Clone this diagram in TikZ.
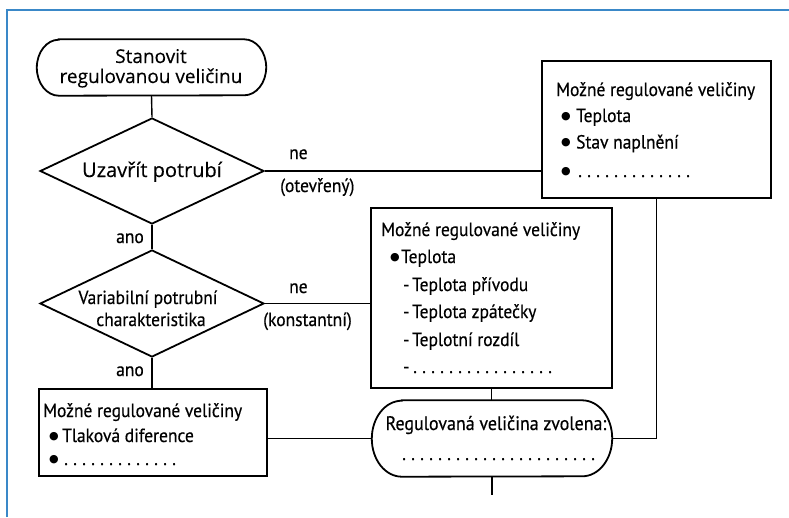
\documentclass[tikz,border=0pt]{standalone}
\usepackage{fontspec}
\setmainfont{PT Sans}[FakeStretch=0.92, FakeBold=0.4]
\newfontfamily\widefont{Open Sans}[FakeBold=0.3]
\newfontfamily\symfont{DejaVu Sans}
\usetikzlibrary{shapes.geometric}

\definecolor{frameblue}{RGB}{58,136,200}

% a row of evenly spaced dots
\newcommand\leaderdots[1]{\foreach \k in {1,...,#1}{\makebox[9pt][l]{.}}}
% a round list bullet
\newcommand\blt{\raisebox{3pt}{\symfont\fontsize{11}{11}\selectfont ●}}

\begin{document}
\begin{tikzpicture}[x=1pt,y=-1pt,
  txt/.style={inner sep=0pt, anchor=base west, font=\fontsize{19}{22}\selectfont},
  ctxt/.style={txt, anchor=base},
  wtxt/.style={inner sep=0pt, anchor=base, font=\widefont\fontsize{20}{23}\selectfont},
  box/.style={draw, line width=2.2pt, rectangle, inner sep=0pt},
  dec/.style={draw, line width=1.8pt, diamond, inner sep=0pt},
  termbox/.style={rectangle, inner sep=0pt},
  termline/.style={line width=1.8pt},
  wire/.style={line width=1.4pt},
  framebar/.style={draw=frameblue, line width=2pt}
]
\useasboundingbox (0,0) rectangle (789,517);

% page frame
\draw[framebar] (7,517) -- (7,10) -- (789,10);

% shapes
\node[termbox, minimum width=229, minimum height=56] (start) at (151.5,67.5) {};
\node[dec, minimum width=224, minimum height=106] (d1) at (152,171) {};
\node[dec, minimum width=224, minimum height=107] (d2) at (152,303.5) {};
\node[box, minimum width=229, minimum height=137] (b1) at (656.5,129.5) {};
\node[box, minimum width=241, minimum height=180] (b2) at (491.5,298) {};
\node[box, minimum width=228, minimum height=87] (b3) at (153,432.5) {};
\node[termbox, minimum width=240, minimum height=76] (t2) at (492,438.5) {};
\coordinate (out) at (490,495);

% terminal outlines with elliptic ends
\draw[termline] ([xshift=22pt]start.north west) -- ([xshift=-22pt]start.north east)
  arc[start angle=90, end angle=-90, x radius=22pt, y radius=28pt]
  -- ([xshift=22pt]start.south west)
  arc[start angle=270, end angle=90, x radius=22pt, y radius=28pt] -- cycle;
\draw[termline] ([xshift=30pt]t2.north west) -- ([xshift=-30pt]t2.north east)
  arc[start angle=90, end angle=-90, x radius=30pt, y radius=38pt]
  -- ([xshift=30pt]t2.south west)
  arc[start angle=270, end angle=90, x radius=30pt, y radius=38pt] -- cycle;

% connectors
\draw[wire] (start.south) -- (d1.north);
\draw[wire] (d1.east) -- (d1.east -| b1.west);
\draw[wire] (d1.south) -- (d2.north);
\draw[wire] (d2.east) -- (d2.east -| b2.west);
\draw[wire] (d2.south) -- (d2.south |- b3.north);
\draw[wire] (t2.west -| b3.east) -- (t2.west);
\draw[wire] (b2.south) -- (b2.south |- t2.north);
\draw[wire] (t2.south) -- (t2.south |- out);
\draw[wire] (t2.east) -- (t2.east -| b1.south) -- (b1.south);

% texts of the shapes
\node[wtxt, font=\widefont\fontsize{19}{22}\selectfont] (startA) at (151,63) {Stanovit};
\node[wtxt, font=\widefont\fontsize{19}{22}\selectfont] (startB) at (151,83) {regulovanou veličinu};
\node[wtxt] (d1t) at (152,177) {Uzavřít potrubí};
\node[ctxt] (d2a) at (148,304) {Variabilní potrubní};
\node[ctxt] (d2b) at (151,326) {charakteristika};

% branch labels
\node[txt] (ne1) at (289,159) {ne};
\node[txt] (open) at (280,192) {(otevřený)};
\node[txt] (ano1) at (116,243) {ano};
\node[txt] (ne2) at (289,293) {ne};
\node[txt] (const) at (263,326) {(konstantní)};
\node[txt] (ano2) at (116,376) {ano};

% box 1
\node[txt] (b1h) at (556,96) {Možné regulované veličiny};
\node[txt] (b1a) at (561,122) {\makebox[15pt][l]{\blt}Teplota};
\node[txt] (b1b) at (561,148.5) {\makebox[15pt][l]{\blt}Stav naplnění};
\node[txt] (b1c) at (561,177) {\makebox[17pt][l]{\blt}\leaderdots{13}};

% box 2
\node[txt] (b2h) at (381,236) {Možné regulované veličiny};
\node[txt] (b2a) at (390,263) {\makebox[11pt][l]{\blt}Teplota};
\node[txt] (b2b) at (403,291) {\makebox[9pt][l]{-}Teplota přívodu};
\node[txt] (b2c) at (403,318) {\makebox[9pt][l]{-}Teplota zpátečky};
\node[txt] (b2d) at (403,346) {\makebox[9pt][l]{-}Teplotní rozdíl};
\node[txt] (b2e) at (403,373) {\makebox[10pt][l]{-}\leaderdots{16}};

% box 3
\node[txt] (b3h) at (43,417) {Možné regulované veličiny};
\node[txt] (b3a) at (49,442) {\makebox[13pt][l]{\blt}Tlaková diference};
\node[txt] (b3b) at (49,465) {\makebox[15pt][l]{\blt}\leaderdots{13}};

% final terminal
\node[ctxt, font=\fontsize{19.5}{23}\selectfont] (t2a) at (496,430) {Regulovaná veličina zvolena:};
\node[txt] (t2b) at (402,460) {\leaderdots{22}};
\end{tikzpicture}
\end{document}
